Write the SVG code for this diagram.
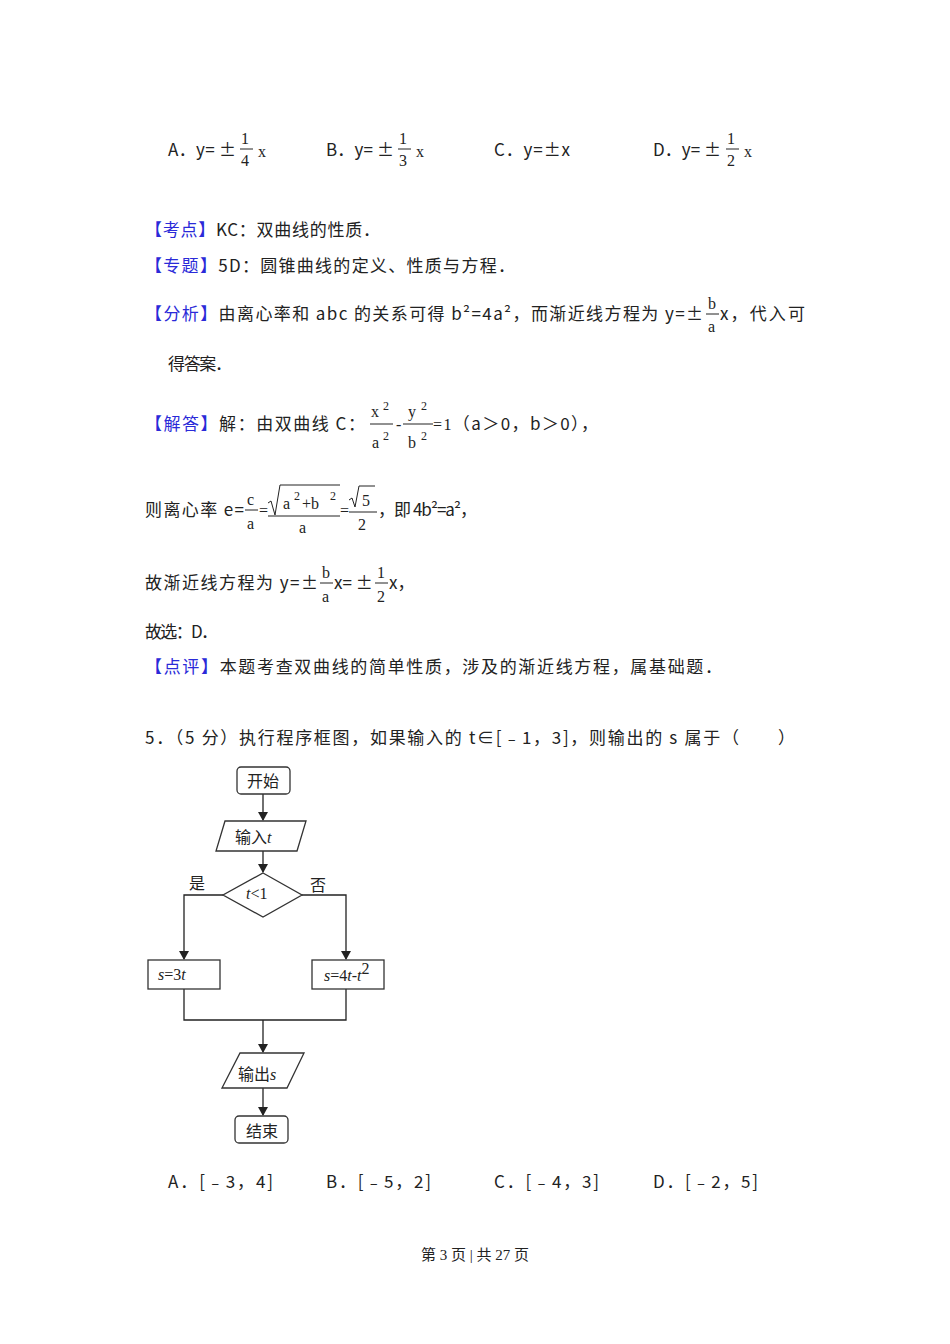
<svg xmlns="http://www.w3.org/2000/svg" width="950" height="1344" viewBox="0 0 950 1344">
<style>
text{font-family:"Noto Sans CJK SC","Liberation Sans",sans-serif;font-size:17px;fill:#222}
.b{fill:#2a2ad8}
.m{font-family:"Liberation Serif","Noto Sans CJK SC",serif;font-size:16px}
.s{font-size:12px}
.f{stroke:#222;stroke-width:1;fill:none}
.fl{stroke:#333;stroke-width:1.3;fill:#fff}
.c{stroke:#222;stroke-width:1.3;fill:none}
.i{font-family:"Times New Roman","Liberation Serif",serif;font-style:italic;font-size:16px}
.t{font-size:16px}
</style>
<defs><marker id="a" markerWidth="10" markerHeight="10" refX="8" refY="5" orient="auto" markerUnits="userSpaceOnUse"><path d="M0,0L9,5L0,10z" fill="#222"/></marker></defs>
<rect width="950" height="1344" fill="#fff"/>

<g id="options1">
<text x="168" y="156" textLength="68" lengthAdjust="spacing">A．y= ±</text>
<text class="m" x="241" y="144">1</text><line class="f" x1="240" y1="149" x2="253" y2="149"/><text class="m" x="241" y="166">4</text><text class="m" x="258" y="157">x</text>
<text x="326" y="156" textLength="68" lengthAdjust="spacing">B．y= ±</text>
<text class="m" x="399" y="144">1</text><line class="f" x1="398" y1="149" x2="411" y2="149"/><text class="m" x="399" y="166">3</text><text class="m" x="416" y="157">x</text>
<text x="494" y="156" textLength="76" lengthAdjust="spacing">C．y=±x</text>
<text x="653" y="156" textLength="68" lengthAdjust="spacing">D．y= ±</text>
<text class="m" x="727" y="144">1</text><line class="f" x1="726" y1="149" x2="739" y2="149"/><text class="m" x="727" y="166">2</text><text class="m" x="744" y="157">x</text>
</g>

<g id="text">
<text x="145" y="236" textLength="235" lengthAdjust="spacing"><tspan class="b">【考点】</tspan>KC：双曲线的性质．</text>
<text x="145" y="272" textLength="370" lengthAdjust="spacing"><tspan class="b">【专题】</tspan>5D：圆锥曲线的定义、性质与方程．</text>
<text x="145" y="320" textLength="558" lengthAdjust="spacing"><tspan class="b">【分析】</tspan>由离心率和 abc 的关系可得 b²=4a²，而渐近线方程为 y=±</text>
<text class="m" x="708" y="309">b</text><line class="f" x1="706" y1="314" x2="719" y2="314"/><text class="m" x="708" y="332">a</text>
<text x="720" y="320" textLength="85" lengthAdjust="spacing">x，代入可</text>
<text x="168" y="370" textLength="64" lengthAdjust="spacing">得答案．</text>

<text x="145" y="430" textLength="220" lengthAdjust="spacing"><tspan class="b">【解答】</tspan>解：由双曲线 C：</text>
<text class="m" x="371" y="417">x</text><text class="m s" x="383" y="410">2</text>
<line class="f" x1="370" y1="424" x2="393" y2="424"/>
<text class="m" x="372" y="448">a</text><text class="m s" x="383" y="440">2</text>
<text class="m" x="396" y="430">-</text>
<text class="m" x="408" y="417">y</text><text class="m s" x="421" y="410">2</text>
<line class="f" x1="403" y1="424" x2="433" y2="424"/>
<text class="m" x="408" y="448">b</text><text class="m s" x="421" y="440">2</text>
<text x="433" y="430" textLength="165" lengthAdjust="spacing"><tspan class="m">=1</tspan>（a＞0，b＞0），</text>

<text x="145" y="516" textLength="99" lengthAdjust="spacing">则离心率 e=</text>
<text class="m" x="247" y="505">c</text><line class="f" x1="245" y1="510" x2="258" y2="510"/><text class="m" x="247" y="529">a</text>
<text class="m" x="259" y="516">=</text>
<path class="f" d="M268,503l3,-2l4,14l5,-30h60"/>
<text class="m" x="283" y="509">a</text><text class="m s" x="294" y="500">2</text><text class="m" x="302" y="509">+b</text><text class="m s" x="330" y="500">2</text>
<line class="f" x1="268" y1="516" x2="340" y2="516"/>
<text class="m" x="299" y="533">a</text>
<text class="m" x="340" y="516">=</text>
<path class="f" d="M349,500l3,-2l3,9l4,-21h16"/>
<text class="m" x="362" y="506">5</text>
<line class="f" x1="349" y1="512" x2="377" y2="512"/>
<text class="m" x="358" y="530">2</text>
<text x="378" y="516" textLength="99" lengthAdjust="spacing">，即 4b²=a²，</text>

<text x="145" y="589" textLength="173" lengthAdjust="spacing">故渐近线方程为 y=±</text>
<text class="m" x="322" y="578">b</text><line class="f" x1="320" y1="583" x2="333" y2="583"/><text class="m" x="322" y="602">a</text>
<text x="334" y="589">x= ±</text>
<text class="m" x="377" y="578">1</text><line class="f" x1="375" y1="583" x2="388" y2="583"/><text class="m" x="377" y="602">2</text>
<text x="389" y="589">x，</text>

<text x="145" y="638" textLength="73" lengthAdjust="spacing">故选：D．</text>
<text x="145" y="673" textLength="577" lengthAdjust="spacing"><tspan class="b">【点评】</tspan>本题考查双曲线的简单性质，涉及的渐近线方程，属基础题．</text>
<text x="145" y="744" textLength="650" lengthAdjust="spacing">5．（5 分）执行程序框图，如果输入的 t∈[﹣1，3]，则输出的 s 属于（　　）</text>
</g>

<g id="connectors" class="c">
<line x1="263" y1="794" x2="263" y2="820" marker-end="url(#a)"/>
<line x1="263" y1="851" x2="263" y2="872" marker-end="url(#a)"/>
<polyline points="223,895 184,895 184,959" marker-end="url(#a)"/>
<polyline points="302,895 346,895 346,959" marker-end="url(#a)"/>
<polyline points="184,989 184,1020 346,1020 346,989"/>
<line x1="263" y1="1020" x2="263" y2="1052" marker-end="url(#a)"/>
<line x1="263" y1="1088" x2="263" y2="1115" marker-end="url(#a)"/>
</g>
<g id="start"><rect class="fl" x="237" y="767" width="53" height="27" rx="4"/><text class="t" x="263" y="787" text-anchor="middle">开始</text></g>
<g id="input"><polygon class="fl" points="225,821 306,821 297,851 216,851"/><text x="235" y="843"><tspan class="t">输入</tspan><tspan class="i">t</tspan></text></g>
<g id="cond"><polygon class="fl" points="263,873 302,895 263,917 223,895"/><text x="246" y="899"><tspan class="i">t</tspan><tspan class="m">&lt;1</tspan></text></g>
<text class="t" x="189" y="889">是</text>
<text class="t" x="310" y="891">否</text>
<g id="s1"><rect class="fl" x="148" y="960" width="72" height="29"/><text x="158" y="980"><tspan class="i">s</tspan><tspan class="m">=3</tspan><tspan class="i">t</tspan></text></g>
<g id="s2"><rect class="fl" x="312" y="960" width="72" height="29"/><text x="324" y="981"><tspan class="i">s</tspan><tspan class="m">=4</tspan><tspan class="i">t</tspan><tspan class="m">-</tspan><tspan class="i">t</tspan><tspan class="m" font-size="10" dy="-7">2</tspan></text></g>
<g id="output"><polygon class="fl" points="240,1053 304,1053 287,1088 222,1088"/><text x="238" y="1080"><tspan class="t">输出</tspan><tspan class="i">s</tspan></text></g>
<g id="end"><rect class="fl" x="235" y="1116" width="53" height="27" rx="4"/><text class="t" x="262" y="1137" text-anchor="middle">结束</text></g>

<g id="options2">
<text x="168" y="1188" textLength="105" lengthAdjust="spacing">A．[﹣3，4]</text>
<text x="326" y="1188" textLength="105" lengthAdjust="spacing">B．[﹣5，2]</text>
<text x="494" y="1188" textLength="105" lengthAdjust="spacing">C．[﹣4，3]</text>
<text x="653" y="1188" textLength="105" lengthAdjust="spacing">D．[﹣2，5]</text>
</g>
<text x="475" y="1260" text-anchor="middle" style="font-family:'Liberation Serif','Noto Sans CJK SC',serif;font-size:15px">第 3 页 | 共 27 页</text>
</svg>
